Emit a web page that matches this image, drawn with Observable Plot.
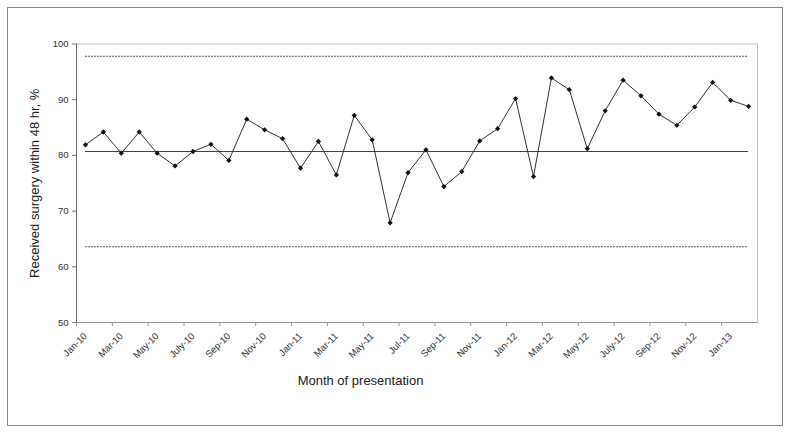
<!DOCTYPE html>
<html>
<head>
<meta charset="utf-8">
<script src="https://cdn.jsdelivr.net/npm/d3@7"></script>
<script src="https://cdn.jsdelivr.net/npm/@observablehq/plot@0.6"></script>
<style>
  html, body { margin: 0; padding: 0; background: #fff; }
  #wrap { position: relative; width: 790px; height: 433px; overflow: hidden; }
  #border { position: absolute; left: 7px; top: 7px; width: 776px; height: 419px; box-sizing: border-box; border: 1.5px solid #8a8a8a; pointer-events: none; }
  #chart { position: absolute; left: 0; top: 0; }
</style>
</head>
<body>
<div id="wrap"><div id="chart"></div><div id="border"></div></div>
<script>
const months = ["Jan-10","Feb-10","Mar-10","Apr-10","May-10","Jun-10","Jul-10","Aug-10","Sep-10","Oct-10","Nov-10","Dec-10",
  "Jan-11","Feb-11","Mar-11","Apr-11","May-11","Jun-11","Jul-11","Aug-11","Sep-11","Oct-11","Nov-11","Dec-11",
  "Jan-12","Feb-12","Mar-12","Apr-12","May-12","Jun-12","Jul-12","Aug-12","Sep-12","Oct-12","Nov-12","Dec-12",
  "Jan-13","Feb-13"];
const values = [81.9,84.2,80.4,84.2,80.4,78.1,80.7,82.0,79.1,86.5,
  84.6,83.0,77.7,82.5,76.5,87.2,82.8,67.9,76.9,81.0,
  74.4,77.1,82.6,84.8,90.2,76.2,93.9,91.8,81.2,88.0,
  93.5,90.7,87.4,85.4,88.7,93.1,89.9,88.8];
const tickLabels = ["Jan-10","Mar-10","May-10","July-10","Sep-10","Nov-10","Jan-11","Mar-11","May-11","Jul-11",
  "Sep-11","Nov-11","Jan-12","Mar-12","May-12","July-12","Sep-12","Nov-12","Jan-13"];
const yTicks = [50,60,70,80,90,100];
const centerLine = 80.7;
const controlLimits = [97.8, 63.6];
const yTitle = "Received surgery within 48 hr, %";
const xTitle = "Month of presentation";

const rows = months.map((m, i) => ({i: i + 0.5, month: m, value: values[i]}));
const labelPos = tickLabels.map((_, k) => 2 * k + 0.5);
const labelMap = new Map(labelPos.map((p, k) => [p, tickLabels[k]]));
const boundaries = tickLabels.map((_, k) => 2 * k);
const first = rows[0].i, last = rows[rows.length - 1].i;

const chart = Plot.plot({
  width: 790,
  height: 433,
  marginLeft: 76,
  marginRight: 33,
  marginTop: 43.5,
  marginBottom: 111,
  x: {domain: [0, months.length], axis: null},
  y: {domain: [50, 100], axis: null},
  style: {fontFamily: "'Liberation Sans', Arial, sans-serif", color: "#333", background: "transparent"},
  marks: [
    Plot.frame({stroke: "#c2c2c2"}),
    Plot.ruleX([0], {stroke: "#666"}),
    Plot.ruleY([50], {stroke: "#999"}),
    Plot.axisY({ticks: yTicks, tickSize: 4, tickPadding: 4, fontSize: 9.5, label: null, stroke: "#777"}),
    Plot.axisX({ticks: boundaries, tickSize: 4, text: null, label: null, stroke: "#999"}),
    Plot.axisX({ticks: labelPos, tickFormat: d => labelMap.get(d), tickSize: 0, tickPadding: 12, tickRotate: -45, fontSize: 9.5, label: null, fill: "#333"}),
    Plot.ruleY(controlLimits, {x1: first, x2: last, stroke: "#444", strokeWidth: 0.9, strokeDasharray: "2,1"}),
    Plot.ruleY([centerLine], {x1: first, x2: last, stroke: "#444", strokeWidth: 1}),
    Plot.line(rows, {x: "i", y: "value", stroke: "#333", strokeWidth: 1}),
    Plot.dot(rows, {x: "i", y: "value", symbol: "square", rotate: 45, r: 2.1, fill: "#111", stroke: "none"}),
    Plot.text([yTitle], {text: d => d, frameAnchor: "left", textAnchor: "middle", dx: -41.5, rotate: -90, fontSize: 13, fill: "#222"}),
    Plot.text([xTitle], {text: d => d, frameAnchor: "bottom", textAnchor: "middle", dx: -56.5, dy: 62, fontSize: 13, fill: "#222"})
  ]
});
document.getElementById("chart").appendChild(chart);
</script>
</body>
</html>
